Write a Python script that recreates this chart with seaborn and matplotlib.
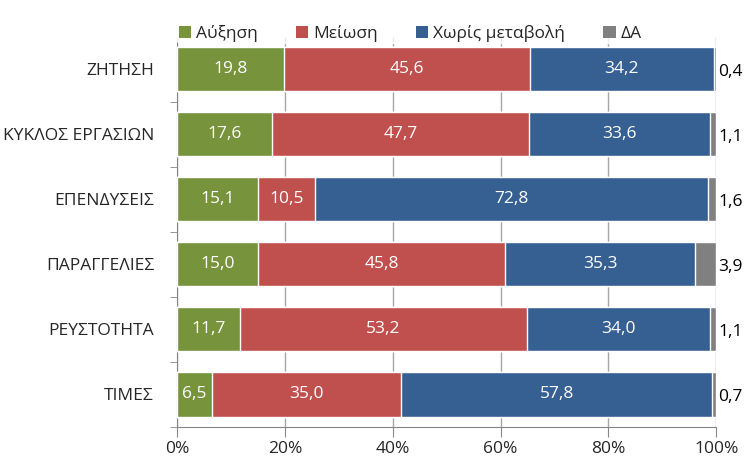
import pandas as pd
import matplotlib.pyplot as plt
import seaborn as sns
from matplotlib.patches import Patch
from matplotlib.ticker import FixedLocator, PercentFormatter

categories = ["ΖΗΤΗΣΗ", "ΚΥΚΛΟΣ ΕΡΓΑΣΙΩΝ", "ΕΠΕΝΔΥΣΕΙΣ", "ΠΑΡΑΓΓΕΛΙΕΣ", "ΡΕΥΣΤΟΤΗΤΑ", "ΤΙΜΕΣ"]
increase = [19.8, 17.6, 15.1, 15.0, 11.7, 6.5]
decrease = [45.6, 47.7, 10.5, 45.8, 53.2, 35.0]
no_change = [34.2, 33.6, 72.8, 35.3, 34.0, 57.8]
dk = [0.4, 1.1, 1.6, 3.9, 1.1, 0.7]
series_names = ["Αύξηση", "Μείωση", "Χωρίς μεταβολή", "ΔΑ"]
colors = ["#77933C", "#C0504D", "#376092", "#808080"]

df = pd.DataFrame({"cat": categories, "a": increase, "b": decrease, "c": no_change, "d": dk})
df["c1"] = df["a"]
df["c2"] = df["c1"] + df["b"]
df["c3"] = df["c2"] + df["c"]
df["c4"] = df["c3"] + df["d"]

sns.set_style("white")
plt.rcParams["font.family"] = ["Open Sans", "DejaVu Sans"]
fs = 12.5

fig = plt.figure(figsize=(7.5, 4.67), dpi=100)
ax = fig.add_axes([0.236, 0.0857, 0.719, 0.836])

# stacked bars: draw cumulative totals from widest to narrowest
for col, color in zip(["c4", "c3", "c2", "c1"], colors[::-1]):
    sns.barplot(data=df, x=col, y="cat", orient="h", color=color, width=0.68,
                saturation=1, ax=ax, zorder=3)

ax.set_xlim(0, 100)
ax.set_ylim(5.5, -0.5)
ax.xaxis.set_major_locator(FixedLocator([0, 20, 40, 60, 80, 100]))
ax.xaxis.set_major_formatter(PercentFormatter(decimals=0))
ax.grid(axis="x", color="#A6A6A6", linewidth=1, zorder=0)
ax.set_xlabel("")
ax.set_ylabel("")
for side in ["top", "right"]:
    ax.spines[side].set_visible(False)
for side in ["left", "bottom"]:
    ax.spines[side].set_color("#868686")
ax.tick_params(axis="x", bottom=True, length=7, color="#868686", labelsize=fs, pad=3)
ax.tick_params(axis="y", left=False, labelsize=fs, pad=13)
ax.set_yticks(range(len(categories)))
ax.set_yticklabels(categories)
ax.set_yticks([i + 0.5 for i in range(len(categories))], minor=True)
ax.tick_params(axis="y", which="minor", left=True, length=5, color="#868686")

# value labels
for i in range(len(categories)):
    starts = [0, df["c1"][i], df["c2"][i]]
    vals = [increase[i], decrease[i], no_change[i]]
    for s, v in zip(starts, vals):
        ax.text(s + v / 2, i, f"{v:.1f}".replace(".", ","), color="white",
                ha="center", va="center", fontsize=fs, zorder=5)
    ax.text(102.7, i + 0.04, f"{dk[i]:.1f}".replace(".", ","), color="black",
            ha="center", va="center", fontsize=fs, zorder=5, clip_on=False)

handles = [Patch(facecolor=c, edgecolor="none") for c in colors]
leg = fig.legend(handles, series_names, loc="center", bbox_to_anchor=(0.547, 0.929),
                 ncol=4, frameon=True, fontsize=fs, handlelength=0.7, handleheight=0.7,
                 handletextpad=0.3, columnspacing=2.2, borderpad=0.1)
leg.get_frame().set_facecolor("white")
leg.get_frame().set_edgecolor("white")

fig.savefig("out.png", dpi=100)
